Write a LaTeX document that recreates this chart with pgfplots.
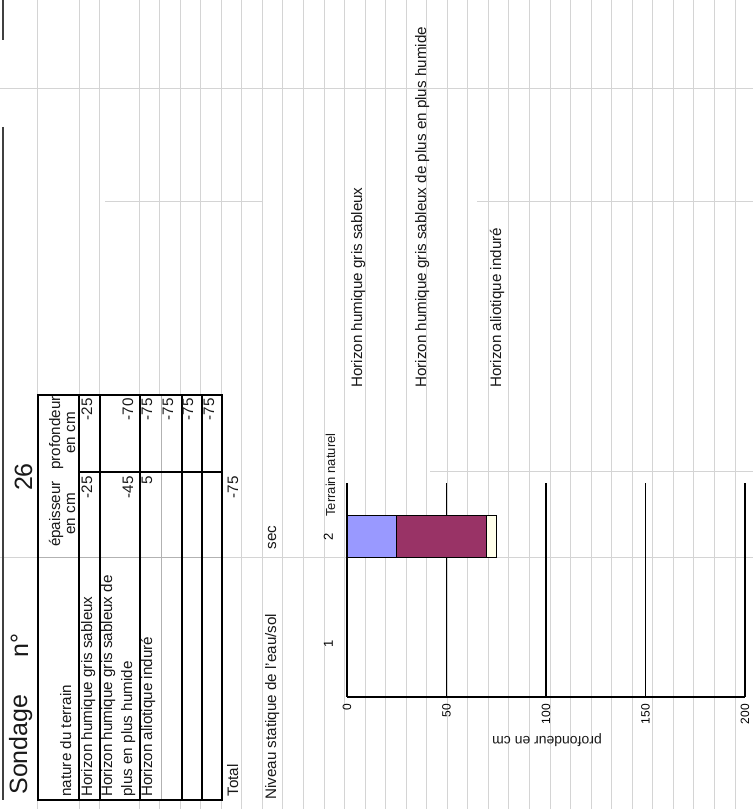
\documentclass[border=0pt]{standalone}
\usepackage{pgfplots}
\pgfplotsset{compat=1.18}
\usepackage{fontspec}
\setmainfont{Liberation Sans}
\definecolor{barblue}{HTML}{9999FF}
\definecolor{barplum}{HTML}{993366}
\definecolor{barcream}{HTML}{FFFFEA}
\definecolor{cellgray}{HTML}{D4D4D4}
\newcommand{\fs}[1]{\fontsize{#1}{#1}\selectfont}
\begin{document}
\begin{tikzpicture}
\useasboundingbox (0,0) rectangle (376.5pt,404.5pt);
\begin{scope}[x=0.5pt,y=-0.5pt,yshift=404.5pt]
\fill[white] (0,0) rectangle (753,809);
% spreadsheet cell lines
\foreach \xx in {37,79,99,139,159.6,180.1,200.7,221.2,241.8,262.3,282.9,303.4,324,344.5,365,385.6,406.2,426.7,447.3,467.8,488.4,508.9,529.5,550,570.6,591.1,611.7,632.2,652.8,673.3,693.9,714.4,735}
  \draw[cellgray, line width=0.5pt] (\xx,0) -- (\xx,809);
\draw[cellgray, line width=0.5pt] (0,89) -- (753,89);
\draw[cellgray, line width=0.5pt] (105,202) -- (262,202);
\draw[cellgray, line width=0.5pt] (477,202) -- (753,202);
\draw[cellgray, line width=0.5pt] (430,472) -- (753,472);
\draw[cellgray, line width=0.5pt] (0,558) -- (753,558);
% table
\fill[white] (38,395) rectangle (222,800);
\draw[gray!60, line width=0.5pt] (161,395) -- (161,800);
\draw[gray!60, line width=0.5pt] (38,558) -- (222,558);
\foreach \xx in {79,100,140,182,202}
  \draw[black, line width=1pt] (\xx,395) -- (\xx,800);
\draw[black, line width=1.2pt] (79,472) -- (222,472);
\draw[black, line width=0.9pt] (38,395) rectangle (222,800);
% page edge
\draw[black!75, line width=1.2pt] (3,0) -- (3,40);
\draw[black!75, line width=1.2pt] (3,127) -- (3,800);
% titles
\tikzset{lbl/.style={rotate=90, inner sep=0pt, font=\fs{7.6}, text=black!90}}
\node[lbl, anchor=base west, font=\fs{12.5}] at (27,795) {Sondage};
\node[lbl, anchor=base west, font=\fs{12.5}] at (28,658) {n°};
\node[lbl, anchor=base, font=\fs{12.5}] at (32,477) {26};
% table header
\node[lbl, anchor=base west] at (71,797) {nature du terrain};
\node[lbl, anchor=base] at (60,514) {épaisseur};
\node[lbl, anchor=base] at (75,514) {en cm};
\node[lbl, anchor=base] at (60,433) {profondeur};
\node[lbl, anchor=base] at (75,433) {en cm};
% rows
\node[lbl, anchor=base west] at (92,797) {Horizon humique gris sableux};
\node[lbl, anchor=base west] at (112,797) {Horizon humique gris sableux de};
\node[lbl, anchor=base west] at (132,797) {plus en plus humide};
\node[lbl, anchor=base west] at (152,797) {Horizon aliotique induré};
\node[lbl, anchor=base west] at (238,797) {Total};
\node[lbl, anchor=base west] at (276,800) {Niveau statique de l'eau/sol};
\node[lbl, anchor=base west] at (276,550) {sec};
% values
\node[lbl, anchor=base east] at (92,476) {-25};
\node[lbl, anchor=base east] at (133,476) {-45};
\node[lbl, anchor=base east] at (152,476) {5};
\node[lbl, anchor=base east] at (238,476) {-75};
\node[lbl, anchor=base east] at (92,398) {-25};
\node[lbl, anchor=base east] at (133,398) {-70};
\node[lbl, anchor=base east] at (152,398) {-75};
\node[lbl, anchor=base east] at (173,398) {-75};
\node[lbl, anchor=base east] at (193,398) {-75};
\node[lbl, anchor=base east] at (214,398) {-75};
% chart annotations
\node[lbl, anchor=base west, font=\fs{6.5}] at (335,517) {Terrain naturel};
\node[lbl, anchor=base west] at (362,388) {Horizon humique gris sableux};
\node[lbl, anchor=base west] at (426,388) {Horizon humique gris sableux de plus en plus humide};
\node[lbl, anchor=base west] at (501,388) {Horizon aliotique induré};
\node[rotate=180, inner sep=0pt, font=\fs{7}, text=black!90] at (547,740) {profondeur en cm};
\end{scope}
\begin{axis}[
  at={(173.5pt,56pt)}, anchor=south west,
  scale only axis, width=199pt, height=107pt,
  xbar stacked, bar width=21pt,
  xmin=0, xmax=200, ymin=0.5, ymax=2.5,
  xtick={0,50,100,150,200}, ytick={1,2},
  axis x line*=bottom, axis y line*=left,
  axis line style={black, line width=1pt, -},
  xmajorgrids, major grid style={black, line width=0.8pt},
  major tick length=0pt,
  xticklabel style={rotate=90, anchor=east, font=\fs{6}},
  yticklabel style={rotate=90, anchor=south, font=\fs{6.5}},
  yticklabel shift=3.5pt,
  /pgf/number format/assume math mode=true,
  clip=false,
]
\addplot[fill=barblue, draw=black, line width=0.6pt] coordinates {(25,2)};
\addplot[fill=barplum, draw=black, line width=0.6pt] coordinates {(45,2)};
\addplot[fill=barcream, draw=black, line width=0.6pt] coordinates {(5,2)};
\end{axis}
\end{tikzpicture}
\end{document}
